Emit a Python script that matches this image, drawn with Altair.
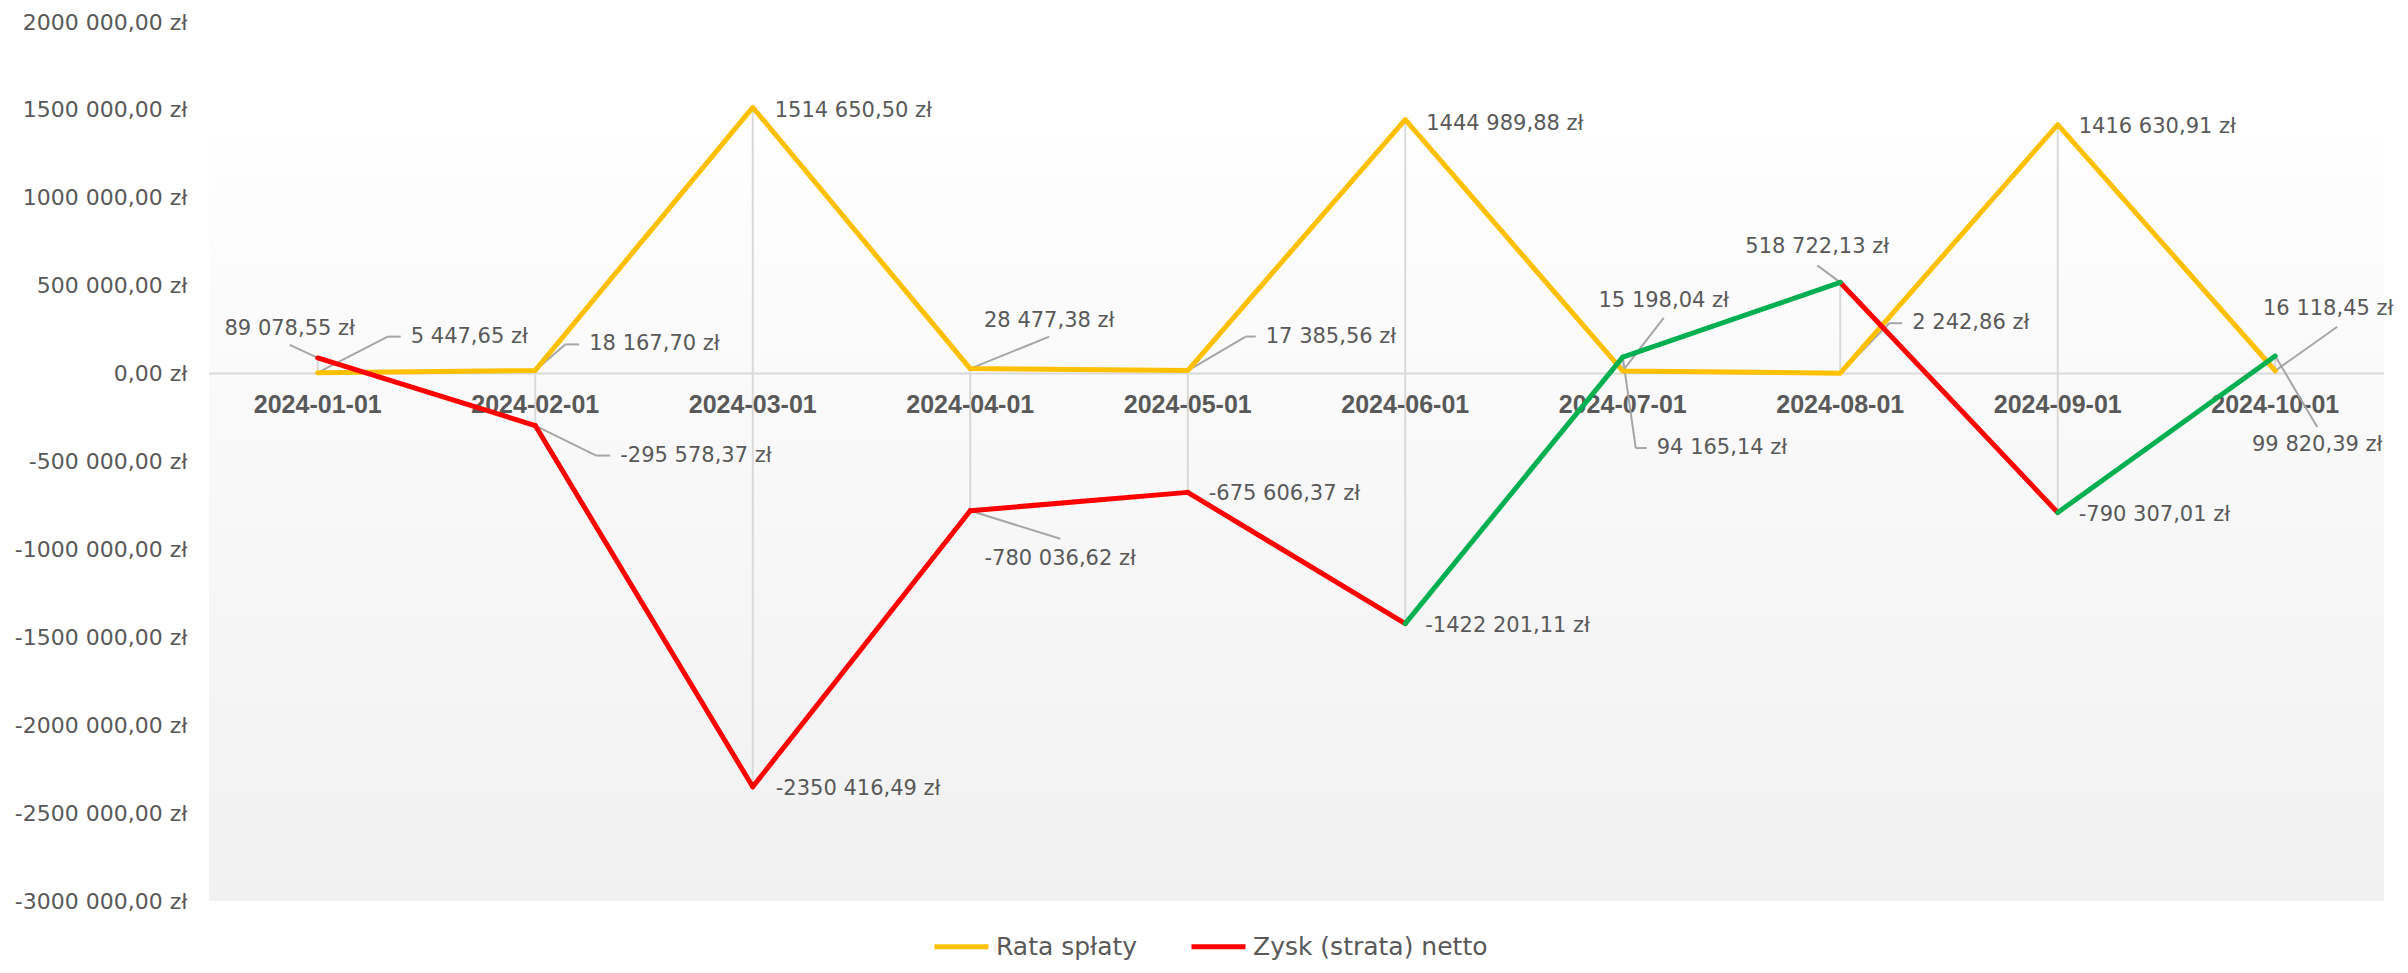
import altair as alt
import pandas as pd

# ---------------- data ----------------
cats = ["2024-01-01", "2024-02-01", "2024-03-01", "2024-04-01", "2024-05-01",
        "2024-06-01", "2024-07-01", "2024-08-01", "2024-09-01", "2024-10-01"]
rata = [5447.65, 18167.70, 1514650.50, 28477.38, 17385.56,
        1444989.88, 15198.04, 2242.86, 1416630.91, 16118.45]
zysk = [89078.55, -295578.37, -2350416.49, -780036.62, -675606.37,
        -1422201.11, 94165.14, 518722.13, -790307.01, 99820.39]
series_names = ["Rata spłaty", "Zysk (strata) netto"]
y_ticks = [2000000, 1500000, 1000000, 500000, 0, -500000,
           -1000000, -1500000, -2000000, -2500000, -3000000]
y_domain = [-3000000, 2000000]

# ---------------- styles ----------------
W, H = 2175, 879
C_RATA, C_LOSS, C_GAIN = "#FFC000", "#FF0000", "#00B050"
TXT = "#595959"
LEADER = "#a6a6a6"
GRID = "#d9d9d9"

# label placement (pixel offsets from the data point)
LABEL_STYLE = {
    ("Rata spłaty", 0): dict(kind="elbow", ex=70, ey=-36, hx=13),
    ("Rata spłaty", 1): dict(kind="elbow", ex=30, ey=-26, hx=14),
    ("Rata spłaty", 2): dict(kind="right", dx=22, dy=4),
    ("Rata spłaty", 3): dict(kind="center", ex=79, ey=-32, ty=-16),
    ("Rata spłaty", 4): dict(kind="elbow", ex=58, ey=-34, hx=10),
    ("Rata spłaty", 5): dict(kind="right", dx=21, dy=4),
    ("Rata spłaty", 6): dict(kind="center", ex=41, ey=-53, ty=-17),
    ("Rata spłaty", 7): dict(kind="elbow", ex=49, ey=-50, hx=13),
    ("Rata spłaty", 8): dict(kind="right", dx=21, dy=2),
    ("Rata spłaty", 9): dict(kind="center", ex=62, ey=-44, ty=-18, tx=-9),
    ("Zysk (strata) netto", 0): dict(kind="center", ex=-28, ey=-13, ty=-16),
    ("Zysk (strata) netto", 1): dict(kind="elbow", ex=61, ey=30, hx=14),
    ("Zysk (strata) netto", 2): dict(kind="right", dx=23, dy=2),
    ("Zysk (strata) netto", 3): dict(kind="center", ex=90, ey=28, ty=20),
    ("Zysk (strata) netto", 4): dict(kind="right", dx=21, dy=2),
    ("Zysk (strata) netto", 5): dict(kind="right", dx=20, dy=2),
    ("Zysk (strata) netto", 6): dict(kind="elbow", ex=13, ey=91, hx=11),
    ("Zysk (strata) netto", 7): dict(kind="center", ex=-23, ey=-17, ty=-18),
    ("Zysk (strata) netto", 8): dict(kind="right", dx=21, dy=2),
    ("Zysk (strata) netto", 9): dict(kind="center", ex=42, ey=71, ty=18),
}


def fmt(v):
    s = f"{abs(v):.2f}"
    ip, dp = s.split(".")
    if len(ip) > 3:
        ip = ip[:-3] + " " + ip[-3:]
    return ("-" if v < 0 else "") + ip + "," + dp + " zł"


# ---------------- tables ----------------
rata_df = pd.DataFrame({"cat": cats, "value": rata, "series": series_names[0]})
hl_df = pd.DataFrame({"cat": cats, "rata": rata, "zysk": zysk})

seg_rows = []
for i in range(len(cats) - 1):
    state = "gain" if zysk[i + 1] > 0 else "loss"
    for j in (i, i + 1):
        seg_rows.append({"seg": i, "cat": cats[j], "value": zysk[j],
                         "state": state, "series": series_names[1]})
seg_df = pd.DataFrame(seg_rows)

lab_rows = []
for s, vals in zip(series_names, [rata, zysk]):
    for i, v in enumerate(vals):
        lab_rows.append({"series": s, "idx": i, "cat": cats[i], "value": v, "text": fmt(v)})
lab_df = pd.DataFrame(lab_rows)

cat_df = pd.DataFrame({"cat": cats, "zero": [0] * len(cats)})
zero_df = pd.DataFrame({"zero": [0]})

# ---------------- encodings ----------------
x_scale = alt.Scale(domain=cats, type="point", padding=0.5)
y_scale = alt.Scale(domain=y_domain, nice=False, zero=False)
y_axis = alt.Axis(values=y_ticks, title=None, domain=False, ticks=False, grid=False,
                  labelPadding=22, labelFont="DejaVu Sans", labelFontSize=22,
                  labelColor=TXT,
                  labelExpr="datum.value == 0 ? '0,00 zł' : (datum.value/1000) + ' 000,00 zł'")


def X():
    return alt.X("cat:O", scale=x_scale, axis=None)


def Y(field):
    return alt.Y(f"{field}:Q", scale=y_scale, axis=y_axis)


color_enc = alt.Color("series:N",
                      scale=alt.Scale(domain=series_names, range=[C_RATA, C_LOSS]),
                      legend=alt.Legend(title=None, orient="none", direction="horizontal",
                                        legendX=723, legendY=895, padding=0,
                                        symbolType="stroke", symbolSize=2916,
                                        symbolStrokeWidth=5, labelFont="DejaVu Sans",
                                        labelFontSize=25, labelColor=TXT, labelLimit=0,
                                        labelOffset=5, columnPadding=43))

layers = []

# plot-area gradient
bg = alt.Chart(zero_df).mark_rect(
    fill={"gradient": "linear", "x1": 0, "y1": 0, "x2": 0, "y2": 1,
          "stops": [{"offset": 0, "color": "#fefefe"}, {"offset": 1, "color": "#f1f1f1"}]}
).encode(x=alt.value(0), x2=alt.value(W), y=alt.value(115), y2=alt.value(H))
layers.append(bg)

# zero line
layers.append(alt.Chart(zero_df).mark_rule(color=GRID, strokeWidth=2).encode(y=Y("zero")))

# high-low lines
layers.append(alt.Chart(hl_df).mark_rule(color=GRID, strokeWidth=2).encode(
    x=X(), y=Y("rata"), y2=alt.Y2("zysk:Q")))

# category labels at zero line
layers.append(alt.Chart(cat_df).mark_text(
    baseline="alphabetic", dy=39, font="Liberation Sans", fontWeight="bold",
    fontSize=25, color=TXT).encode(x=X(), y=Y("zero"), text="cat:N"))

# leader lines
for (s, i), st in LABEL_STYLE.items():
    if st["kind"] == "right":
        continue
    base = alt.Chart(lab_df).transform_filter(
        (alt.datum.series == s) & (alt.datum.idx == i))
    layers.append(base.mark_rule(color=LEADER, strokeWidth=2,
                                 x2Offset=st["ex"], y2Offset=st["ey"]).encode(
        x=X(), y=Y("value"), x2=alt.X2("cat:O"), y2=alt.Y2("value:Q")))
    if st["kind"] == "elbow":
        layers.append(base.mark_rule(color=LEADER, strokeWidth=2,
                                     xOffset=st["ex"], yOffset=st["ey"],
                                     x2Offset=st["ex"] + st["hx"], y2Offset=st["ey"]).encode(
            x=X(), y=Y("value"), x2=alt.X2("cat:O"), y2=alt.Y2("value:Q")))

# series lines
layers.append(alt.Chart(rata_df).mark_line(strokeWidth=5, strokeCap="round",
                                           strokeJoin="round").encode(
    x=X(), y=Y("value"), color=color_enc))
layers.append(alt.Chart(seg_df).transform_filter(alt.datum.state == "loss").mark_line(
    strokeWidth=5, strokeCap="round", strokeJoin="round").encode(
    x=X(), y=Y("value"), color=color_enc, detail="seg:N"))
layers.append(alt.Chart(seg_df).transform_filter(alt.datum.state == "gain").mark_line(
    strokeWidth=5, strokeCap="round", strokeJoin="round", color=C_GAIN).encode(
    x=X(), y=Y("value"), detail="seg:N"))

# data labels
for (s, i), st in LABEL_STYLE.items():
    base = alt.Chart(lab_df).transform_filter(
        (alt.datum.series == s) & (alt.datum.idx == i))
    if st["kind"] == "right":
        mk = dict(align="left", dx=st["dx"], dy=st["dy"])
    elif st["kind"] == "elbow":
        mk = dict(align="left", dx=st["ex"] + st["hx"] + 10, dy=st["ey"])
    else:
        mk = dict(align="center", dx=st["ex"] + st.get("tx", 0), dy=st["ey"] + st["ty"])
    layers.append(base.mark_text(baseline="middle", font="DejaVu Sans", fontSize=21,
                                 color=TXT, **mk).encode(
        x=X(), y=Y("value"), text="text:N"))

chart = alt.layer(*layers).properties(
    width=W, height=H,
    autosize=alt.AutoSizeParams(type="none"),
    padding={"left": 201, "top": 14, "right": 16, "bottom": 64},
).configure_view(strokeOpacity=0)

chart.save("out.html", embed_options={"renderer": "svg", "actions": False})
